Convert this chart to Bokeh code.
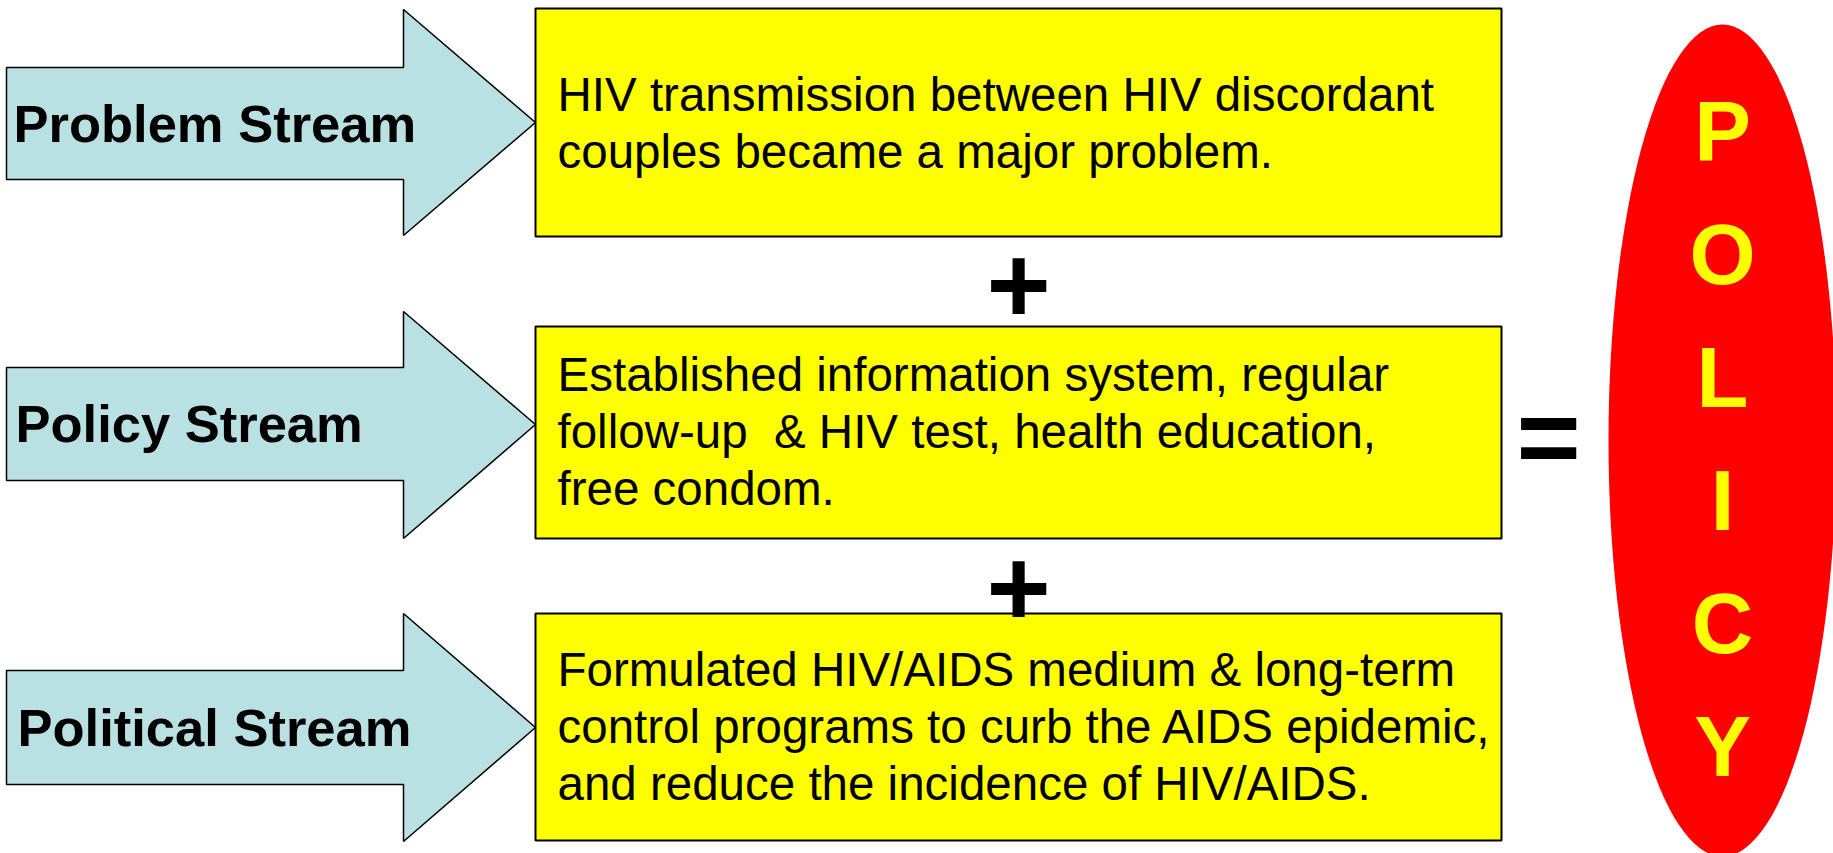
from bokeh.plotting import figure
from bokeh.models import Range1d
from bokeh.core.properties import value
from bokeh.embed import file_html
from bokeh.resources import INLINE

# ---- content ----
streams = ["Problem Stream", "Policy Stream", "Political Stream"]
descriptions = [
    ["HIV transmission between HIV discordant", "couples became a major problem."],
    ["Established information system, regular", "follow-up\u00a0 & HIV test, health education,", "free condom."],
    ["Formulated HIV/AIDS medium & long-term", "control programs to curb the AIDS epidemic,", "and reduce the incidence of HIV/AIDS."],
]
operators = ["+", "+", "="]
result_letters = list("POLICY")

# ---- layout (screen pixel coordinates) ----
row_center = [122, 424, 727]
box_top = [8, 326, 613]
box_bottom = [236, 538, 840]
head_top = [9, 311, 613]
head_bottom = [235, 538, 841]
shaft_top = [67, 367, 670]
shaft_bottom = [179, 480, 784]
label_x = [13, 15, 17]
label_base = [143, 443, 747]
desc_first_base = [112, 392, 687]
line_gap = 57
arrow_left, head_base, tip_x = 6, 403, 535
box_left, box_right = 535, 1501
desc_x = 557
op_x = [1018, 1018, 1548]
op_center = [286, 589, 438]
ell_cx, ell_cy, ell_w, ell_h = 1722, 440, 228, 832
letter_base = [164, 287, 410, 533, 656, 779]

LABEL_FS, DESC_FS, OP_FS, LET_FS = 52.5, 47.5, 110, 85
SHIFT = 0.385  # renderer baseline correction (fraction of font size)

W, H = 1833, 853
p = figure(width=W, height=H, output_backend="svg", toolbar_location=None,
           x_range=Range1d(0, W), y_range=Range1d(H, 0),
           min_border=0, min_border_left=0, min_border_right=0,
           min_border_top=0, min_border_bottom=0)
p.axis.visible = False
p.grid.visible = False
p.outline_line_color = None
p.background_fill_color = "white"
p.border_fill_color = "white"

# arrows
xs, ys = [], []
for i in range(3):
    xs.append([arrow_left, head_base, head_base, tip_x, head_base, head_base, arrow_left])
    ys.append([shaft_top[i], shaft_top[i], head_top[i], row_center[i], head_bottom[i], shaft_bottom[i], shaft_bottom[i]])
p.patches(xs, ys, fill_color="#B9E0E3", line_color="black", line_width=1.5)

# boxes
p.quad(left=[box_left] * 3, right=[box_right] * 3, top=box_top, bottom=box_bottom,
       fill_color="#FFFF00", line_color="black", line_width=2)

# stream labels
p.text(x=label_x, y=[b - SHIFT * LABEL_FS for b in label_base], text=streams,
       text_font=value("Liberation Sans"), text_font_style="bold",
       text_font_size=f"{LABEL_FS}px", text_color="black",
       text_align="left", text_baseline="alphabetic")

# descriptions
dx, dy, dt = [], [], []
for i, lines in enumerate(descriptions):
    for j, line in enumerate(lines):
        dx.append(desc_x)
        dy.append(desc_first_base[i] + j * line_gap - SHIFT * DESC_FS)
        dt.append(line)
p.text(x=dx, y=dy, text=dt, text_font=value("Liberation Sans"),
       text_font_size=f"{DESC_FS}px", text_color="black",
       text_align="left", text_baseline="alphabetic")

# operators (+, +, =)
p.text(x=op_x, y=[c + 0.37 * OP_FS - SHIFT * OP_FS for c in op_center], text=operators,
       text_font=value("Liberation Sans"), text_font_style="bold",
       text_font_size=f"{OP_FS}px", text_color="black",
       text_align="center", text_baseline="alphabetic")

# policy ellipse
p.ellipse(x=[ell_cx], y=[ell_cy], width=[ell_w], height=[ell_h],
          fill_color="#FF0000", line_color=None)
p.text(x=[ell_cx] * len(result_letters), y=[b - SHIFT * LET_FS for b in letter_base],
       text=result_letters, text_font=value("Liberation Sans"), text_font_style="bold",
       text_font_size=f"{LET_FS}px", text_color="#FFFF00",
       text_align="center", text_baseline="alphabetic")

open("out.html", "w").write(file_html(p, INLINE))
